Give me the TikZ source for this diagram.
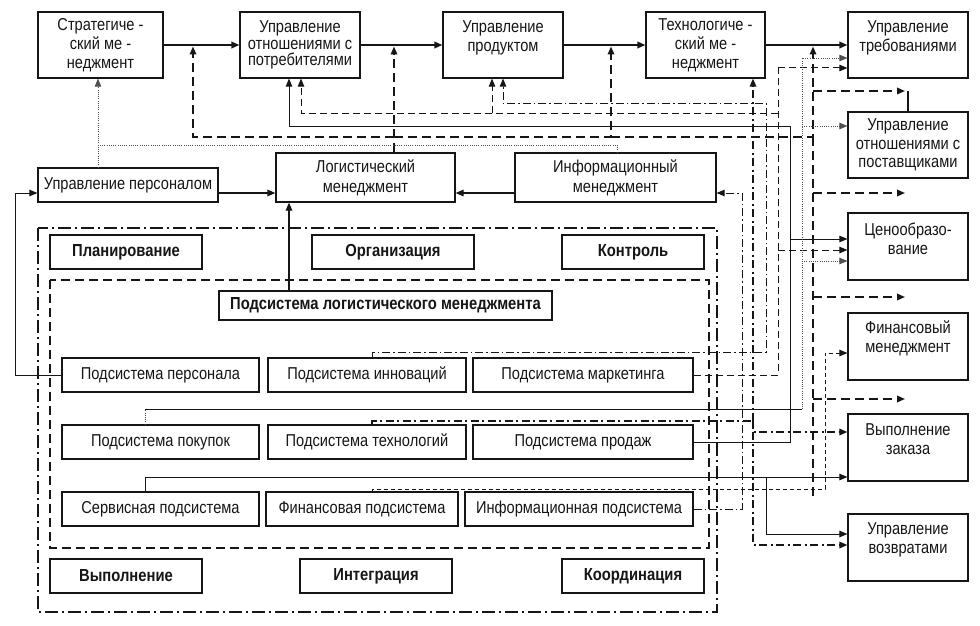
\documentclass[tikz,border=0pt]{standalone}
\usepackage{fontspec}
\setmainfont{Liberation Sans}[FakeStretch=0.85]
\usetikzlibrary{arrows.meta}
\definecolor{ink}{HTML}{161616}
\begin{document}
\begin{tikzpicture}[x=1pt,y=-1pt,
  box/.style={draw=ink, line width=1.2pt, fill=white, inner sep=0pt, align=center, text=ink, font=\fontsize{17.2}{19}\selectfont},
  bbox/.style={box, font=\fontsize{17.4}{19}\selectfont\bfseries},
  txt/.style={inner sep=0pt, align=center, text=ink, font=\fontsize{17.2}{19}\selectfont},
  ln/.style={draw=ink, line width=1pt},
  thk/.style={draw=ink, line width=2.2pt},
  tdash/.style={draw=ink, line width=1.7pt, dash pattern=on 9pt off 5pt},
  mdash/.style={draw=ink, line width=1pt, dash pattern=on 7pt off 4pt},
  fdash/.style={draw=ink, line width=0.8pt, dash pattern=on 4pt off 3pt},
  dd/.style={draw=ink, line width=0.9pt, dash pattern=on 8pt off 3pt on 1.5pt off 3pt},
  tdd/.style={draw=ink, line width=1.6pt, dash pattern=on 8pt off 3.5pt on 2pt off 3.5pt},
  dotl/.style={draw=ink!75, line width=0.7pt, dash pattern=on 0.8pt off 1.4pt},
  arr/.style={-{Triangle[length=8pt,width=6.5pt]}},
]
\fill[white] (0,0) rectangle (980,626);
\useasboundingbox (0,0) rectangle (980,626);

% frames
\draw[draw=ink, line width=1.1pt, dash pattern=on 13pt off 4pt on 2pt off 4pt] (38,228) rectangle (717,612);
\draw[draw=ink, line width=1.1pt, dash pattern=on 9pt off 5pt] (50,280) rectangle (709,548);

% top row
\node[box,minimum width=125pt,minimum height=66pt] (strat) at (100.5,45) {Стратегиче -\\ский ме -\\неджмент};
\node[box,minimum width=120pt,minimum height=66pt,font=\fontsize{17.2}{16.5}\selectfont] (uop) at (300,45) {Управление\\отношениями с\\потребителями};
\node[box,minimum width=120pt,minimum height=66pt] (up) at (503,45) {};
\node[txt] (up-t) at ([yshift=7.5pt]up.center) {Управление\\продуктом};
\node[box,minimum width=119pt,minimum height=66pt] (tech) at (705.5,45) {Технологиче -\\ский ме -\\неджмент};
\node[box,minimum width=120pt,minimum height=66pt] (utreb) at (908,45) {};
\node[txt] (utreb-t) at ([yshift=7.5pt]utreb.center) {Управление\\требованиями};

% right column
\node[box,minimum width=120pt,minimum height=66pt,font=\fontsize{17.2}{18.5}\selectfont] (usupp) at (908,145) {Управление\\отношениями с\\поставщиками};
\node[box,minimum width=120pt,minimum height=67pt] (ceno) at (908,246.5) {};
\node[txt] (ceno-t) at ([yshift=7.5pt]ceno.center) {Ценообразо-\\вание};
\node[box,minimum width=120pt,minimum height=67pt] (fin) at (908,346.5) {};
\node[txt] (fin-t) at ([yshift=8.5pt]fin.center) {Финансовый\\менеджмент};
\node[box,minimum width=120pt,minimum height=67pt] (vyp) at (908,447.5) {};
\node[txt] (vyp-t) at ([yshift=8pt]vyp.center) {Выполнение\\заказа};
\node[box,minimum width=120pt,minimum height=67pt] (vozv) at (908,547.5) {};
\node[txt] (vozv-t) at ([yshift=8pt]vozv.center) {Управление\\возвратами};

% middle row
\node[box,minimum width=180pt,minimum height=34pt] (upers) at (128,185) {Управление персоналом};
\node[box,minimum width=179pt,minimum height=49pt,font=\fontsize{17.2}{20}\selectfont] (logm) at (365.5,177.5) {Логистический\\менеджмент};
\node[box,minimum width=201pt,minimum height=49pt,font=\fontsize{17.2}{20}\selectfont] (infm) at (615.5,177.5) {Информационный\\менеджмент};

% functions
\node[bbox,minimum width=152pt,minimum height=34pt] (plan) at (126,252) {Планирование};
\node[bbox,minimum width=162pt,minimum height=34pt] (org) at (393,252) {Организация};
\node[bbox,minimum width=142pt,minimum height=34pt] (kontr) at (633,252) {Контроль};
\node[bbox,minimum width=152pt,minimum height=34pt] (vypol) at (126,576) {Выполнение};
\node[bbox,minimum width=152pt,minimum height=34pt] (integr) at (376,576) {Интеграция};
\node[bbox,minimum width=142pt,minimum height=34pt] (koord) at (633,576) {Координация};
\node[bbox,minimum width=333pt,minimum height=29pt] (plm) at (385.5,305.5) {Подсистема логистического менеджмента};

% subsystems
\node[box,minimum width=197pt,minimum height=34pt] (pers) at (160.5,375) {Подсистема персонала};
\node[box,minimum width=198pt,minimum height=34pt] (innov) at (367,375) {Подсистема инноваций};
\node[box,minimum width=220pt,minimum height=34pt] (mark) at (583,375) {Подсистема маркетинга};
\node[box,minimum width=197pt,minimum height=34pt] (pokup) at (160.5,442) {Подсистема покупок};
\node[box,minimum width=198pt,minimum height=34pt] (techn) at (367,442) {Подсистема технологий};
\node[box,minimum width=220pt,minimum height=34pt] (prod) at (583,442) {Подсистема продаж};
\node[box,minimum width=197pt,minimum height=34pt] (serv) at (160.5,509) {Сервисная подсистема};
\node[box,minimum width=192pt,minimum height=34pt] (finans) at (362,509) {Финансовая подсистема};
\node[box,minimum width=228pt,minimum height=34pt] (inform) at (579,509) {Информационная подсистема};

% top thick arrows
\draw[thk,arr] (strat.east) -- (uop.west);
\draw[thk,arr] (uop.east) -- (up.west);
\draw[thk,arr] (up.east) -- (tech.west);
\draw[thk,arr] (tech.east) -- (utreb.west);
\coordinate (j1) at (193,46.5);
\coordinate (j2) at (394,46.5);
\coordinate (j3) at (611,46.5);
\coordinate (j4) at (813,46.5);

% logistic management bus (thick dashed)
\draw[tdash,arr] (394,0 |- logm.north) -- (j2);
\draw[tdash,arr] (394,137) -| (j1);
\draw[tdash,arr] (394,137) -| (j3);
\draw[tdash,arr] (611,137) -| (j4);
\draw[tdash] (813,137) -- (813,499);
\foreach \yy in {91,193,297,399} {
  \coordinate (e\yy) at (905,\yy);
  \draw[tdash,arr] (813,\yy) -- (e\yy);
}
\draw[thk] (usupp.north) -- (908,91);

% dotted links
\draw[dotl,arr] (98,0 |- upers.north) -- (98,0 |- strat.south);
\draw[dotl] (617,0 |- infm.north) |- (98,145);

% marketing (dashed)
\draw[mdash] (mark.east) -| (778,68);
\draw[mdash,arr] (778,68) -- (utreb.west |- 0,68);
\draw[mdash,arr] (778,113) -| (301,0 |- uop.south);
\draw[mdash,arr] (492,113) -- (492,0 |- up.south);
\draw[mdash,arr] (778,250) -- (ceno.west |- 0,250);

% sales (solid)
\draw[ln] (prod.east) -| (790,126);
\draw[ln,arr] (790,126) -| (289,0 |- uop.south);
\draw[ln,arr] (790,239) -- (ceno.west |- 0,239);

% innovations (dash-dot)
\draw[dd,arr] (372,0 |- innov.north) |- (766,352) |- (503,103) -- (503,0 |- up.south);

% purchasing
\draw[dotl] (145,0 |- pokup.north) -- (145,409);
\draw[ln,line width=0.8pt] (145,409) -- (802,409);
\draw[dotl,arr] (802,409) |- (utreb.west |- 0,58);
\draw[dotl,arr] (802,126) -- (usupp.west |- 0,126);
\draw[dotl,arr] (802,261) -- (ceno.west |- 0,261);

% technologies (thick dash-dot)
\draw[tdd] (372,0 |- techn.north) |- (753,421);
\draw[tdd,arr] (753,421) -- (753,0 |- tech.south);
\draw[tdd,arr] (753,421) |- (vyp.west |- 0,432);
\draw[tdd,arr] (753,432) |- (vozv.west |- 0,545);

% service (solid)
\draw[ln,arr] (145,0 |- serv.north) |- (vyp.west |- 0,477);
\draw[ln,arr] (766,477) |- (vozv.west |- 0,534);

% financial (fine dashed)
\draw[fdash,arr] (372,0 |- finans.north) |- (825,489) |- (fin.west |- 0,353);

% information (dash-dot)
\draw[dd,arr] (inform.east) -| (742,193) -- (infm.east |- 0,193);

% personnel and logistics links
\draw[ln,arr] (pers.west) -| (15,193) -- (upers.west |- 0,193);
\draw[ln,line width=1.4pt,arr] (upers.east |- 0,193) -- (logm.west |- 0,193);
\draw[ln,line width=1.4pt,arr] (infm.west |- 0,193) -- (logm.east |- 0,193);
\draw[ln,line width=1.2pt,arr] (289,0 |- plm.north) -- (289,0 |- logm.south);
\end{tikzpicture}
\end{document}
